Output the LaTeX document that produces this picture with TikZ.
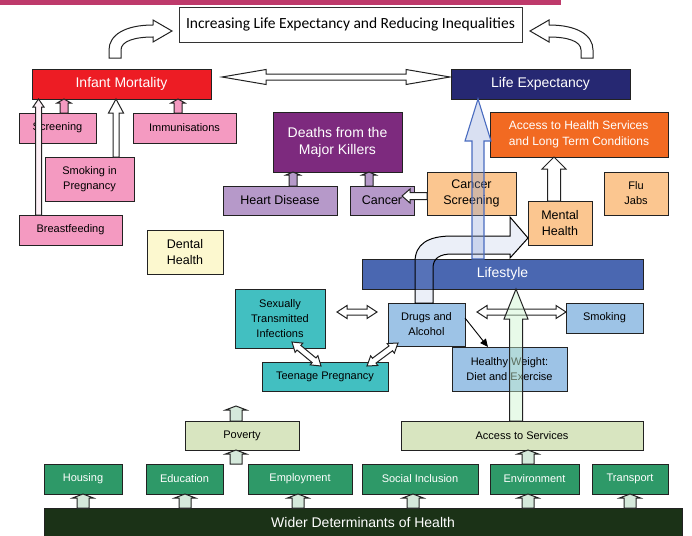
\documentclass[tikz,border=0pt]{standalone}
\usepackage{fontspec}
\setmainfont{Liberation Sans}
\newfontfamily\carl{Carlito}
\usetikzlibrary{calc,arrows.meta}
\definecolor{cBar}{HTML}{BE3A6B}
\definecolor{cRed}{HTML}{ED1C24}
\definecolor{cNavy}{HTML}{262872}
\definecolor{cPink}{HTML}{F49AC1}
\definecolor{cPurple}{HTML}{7D2A7E}
\definecolor{cLilac}{HTML}{B699C9}
\definecolor{cPeach}{HTML}{FBC690}
\definecolor{cOrange}{HTML}{F26A22}
\definecolor{cYellow}{HTML}{FCF8CF}
\definecolor{cLife}{HTML}{4A67B1}
\definecolor{cLBlue}{HTML}{9DC3E6}
\definecolor{cTeal}{HTML}{42BFC1}
\definecolor{cLGreen}{HTML}{D8E5C0}
\definecolor{cGreen}{HTML}{2E9968}
\definecolor{cDGreen}{HTML}{1B3217}
\definecolor{cMint}{HTML}{D5E9DB}
\definecolor{cEdge}{HTML}{222222}
\definecolor{cArrBlue}{HTML}{4A6CC0}
\newcommand\szbig{\fontsize{14}{17}\selectfont}
\newcommand\szmid{\fontsize{12.5}{15.5}\selectfont}
\newcommand\szsm{\fontsize{11}{15}\selectfont}
\newcommand\szacc{\fontsize{12}{16}\selectfont}
\tikzset{
  box/.style={draw=cEdge,line width=1pt,inner sep=0pt,outer sep=0pt,align=center,font=\szsm},
  whitebox/.style={box,text=white},
  harrow/.style={draw=cEdge,line width=1pt,fill=white,line join=miter},
  pinkarrow/.style={harrow,fill=cPink},
  lilacarrow/.style={harrow,fill=cLilac},
  mintarrow/.style={harrow,fill=cMint},
}
\newcommand\bx[7]{\node[#6,minimum width={(#4-#2)*1pt},minimum height={(#5-#3)*1pt}] (#1) at ({(#2+#4)/2},{(#3+#5)/2}) {#7};}
\newcommand\barrowcalc[3]{%
  \path let \p1=(#1), \p2=(#2) in \pgfextra{%
    \pgfmathsetmacro\baA{atan2(\y2-\y1,\x2-\x1)}\global\let\baAng\baA
    \pgfmathsetlengthmacro\baL{veclen(\x2-\x1,\y2-\y1)}\global\let\baLen\baL
    \pgfmathsetlengthmacro\baB{veclen(\x2-\x1,\y2-\y1)-#3pt}\global\let\baBk\baB
    \xdef\baX{\x1}\xdef\baY{\y1}};}
% single block arrow: [style]{from}{to}{half shaft}{half head}{head length}
\newcommand\barrow[6][]{%
  \barrowcalc{#2}{#3}{#6}%
  \begin{scope}[shift={(\baX,\baY)},rotate=\baAng]
    \draw[#1] (0pt,#4pt) -- (\baBk,#4pt) -- (\baBk,#5pt) -- (\baLen,0pt) -- (\baBk,-#5pt) -- (\baBk,-#4pt) -- (0pt,-#4pt) -- cycle;
  \end{scope}}
% double block arrow
\newcommand\dbarrow[6][]{%
  \barrowcalc{#2}{#3}{#6}%
  \begin{scope}[shift={(\baX,\baY)},rotate=\baAng]
    \draw[#1] (0pt,0pt) -- (#6pt,#5pt) -- (#6pt,#4pt) -- (\baBk,#4pt) -- (\baBk,#5pt) -- (\baLen,0pt) -- (\baBk,-#5pt) -- (\baBk,-#4pt) -- (#6pt,-#4pt) -- (#6pt,-#5pt) -- cycle;
  \end{scope}}
\begin{document}
\begin{tikzpicture}[x=1pt,y=-1pt]
\useasboundingbox (0,0) rectangle (692,535);
\fill[cBar] (0,0) rectangle (561,5);
% ---------- boxes
\bx{title}{179}{7}{522}{42}{box,line width=0.8pt,draw=black!80,fill=white,font={\carl\fontsize{15.5}{18}\selectfont}}{Increasing Life Expectancy and Reducing Inequalities}
\bx{im}{32}{69}{211}{99}{whitebox,fill=cRed,font=\szbig}{Infant Mortality}
\bx{le}{451}{69}{630}{99}{whitebox,fill=cNavy,font=\szbig}{Life Expectancy}
\bx{scr}{19}{113}{96}{143}{box,fill=cPink}{Screening}
\bx{imm}{133}{113}{236}{143}{box,fill=cPink}{Immunisations}
\bx{sip}{45}{157}{134}{201}{box,fill=cPink}{Smoking in\\Pregnancy}
\bx{bf}{19}{215}{122}{245}{box,fill=cPink}{Breastfeeding}
\bx{dent}{147}{230}{223}{274}{box,fill=cYellow,font=\szmid}{Dental\\Health}
\bx{dmk}{273}{112}{402}{172}{whitebox,fill=cPurple,font=\szbig}{Deaths from the\\Major Killers}
\bx{hd}{223}{186}{337}{215}{box,fill=cLilac,font=\szmid}{Heart Disease}
\bx{can}{350}{186}{414}{215}{box,fill=cLilac,font=\szmid}{Cancer}
\bx{cs}{427}{172}{516}{215}{box,fill=cPeach,font=\szmid}{Cancer\\Screening}
\bx{ahs}{490}{112}{668}{157}{whitebox,fill=cOrange,font=\szacc,align=left}{Access to Health Services\\and Long Term Conditions}
\bx{flu}{604}{172}{668}{215}{box,fill=cPeach}{Flu\\Jabs}
\bx{mh}{528}{201}{592}{245}{box,fill=cPeach,font=\szmid}{Mental\\Health}
\bx{ls}{362}{259}{643}{289}{whitebox,fill=cLife,font=\szbig}{Lifestyle}
\bx{sti}{235}{289}{325}{348}{box,fill=cTeal}{Sexually\\Transmitted\\Infections}
\bx{da}{388}{303}{465}{346}{box,fill=cLBlue}{Drugs and\\Alcohol}
\bx{smk}{566}{303}{643}{333}{box,fill=cLBlue}{Smoking}
\bx{tp}{262}{362}{388}{391}{box,fill=cTeal}{Teenage Pregnancy}
\bx{hw}{452}{347}{567}{391}{box,fill=cLBlue}{Healthy Weight:\\Diet and Exercise}
\bx{pov}{185}{421}{299}{450}{box,fill=cLGreen}{Poverty}
\bx{ats}{401}{421}{643}{450}{box,fill=cLGreen}{Access to Services}
\bx{hou}{44}{464}{122}{494}{whitebox,fill=cGreen}{Housing}
\bx{edu}{146}{464}{223}{494}{whitebox,fill=cGreen}{Education}
\bx{emp}{248}{464}{352}{494}{whitebox,fill=cGreen}{Employment}
\bx{soc}{362}{464}{478}{494}{whitebox,fill=cGreen}{Social Inclusion}
\bx{env}{490}{464}{579}{494}{whitebox,fill=cGreen}{Environment}
\bx{tra}{592}{464}{668}{494}{whitebox,fill=cGreen}{Transport}
\bx{wd}{44}{508}{682}{536}{whitebox,fill=cDGreen,font=\szbig}{Wider Determinants of Health}
% ---------- top curved arrows
\draw[harrow] (109,58) -- (109,50) .. controls (109,35) and (125,25) .. (153,25)
  -- (153,20) -- (172,31) -- (153,42) -- (153,37)
  .. controls (135,37) and (121,41) .. (121,50) -- (121,58) -- cycle;
\draw[harrow] (593,58) -- (593,50) .. controls (593,35) and (577,25) .. (549,25)
  -- (549,20) -- (530,31) -- (549,42) -- (549,37)
  .. controls (567,37) and (581,41) .. (581,50) -- (581,58) -- cycle;
% ---------- infant mortality arrows
\dbarrow[harrow]{$(im.east)+(11,-7)$}{$(le.west)+(-1,-7)$}{3}{7.5}{44}
\barrow[pinkarrow]{64,0 |- scr.north}{64,0 |- im.south}{4}{7}{4}
\barrow[pinkarrow]{178,0 |- imm.north}{178,0 |- im.south}{4}{7}{4}
\barrow[harrow]{116,0 |- sip.north}{116,0 |- im.south}{3}{7.5}{14}
\barrow[harrow,fill=cPink!15]{38.5,0 |- bf.north}{38.5,0 |- im.south}{3}{5.5}{8}
% ---------- deaths from major killers
\barrow[lilacarrow]{293,0 |- hd.north}{293,0 |- dmk.south}{4}{7}{3}
\barrow[lilacarrow]{369,0 |- can.north}{369,0 |- dmk.south}{4}{7}{3}
\barrow[harrow]{cs.west |- 0,196}{$(can.east |- 0,196)+(-12,0)$}{3.5}{7}{8}
\barrow[harrow]{554,0 |- mh.north}{554,0 |- ahs.south}{6.5}{12}{12}
% ---------- lifestyle cluster
\draw[draw=black,line width=1pt,fill=cArrBlue!60,fill opacity=0.18]
  (415,303) -- (415,262) .. controls (415,244) and (428,236) .. (452,236)
  -- (510,236) -- (510,217) -- (528,238) -- (510,258) -- (510,254) -- (452,254)
  .. controls (440,254) and (433,258) .. (433,268) -- (433,303) -- cycle;
\dbarrow[harrow]{$(sti.east |- 0,312)+(12,0)$}{$(da.west |- 0,312)+(-11,0)$}{3}{6.5}{10}
\dbarrow[harrow]{$(da.east |- 0,312)+(12,0)$}{smk.west |- 0,312}{3}{6.5}{10}
\dbarrow[harrow]{$(sti.south)+(12,-6)$}{$(tp.north)+(-4,4)$}{3}{6}{9}
\dbarrow[harrow]{$(da.south west)+(10,-3)$}{$(tp.north east)+(-21,4)$}{3}{6}{9}
\draw[line width=0.9pt,-{Triangle[length=8pt,width=7pt]}] ($(da.north east)+(0,15)$) -- ($(hw.north west)+(36,0)$);
\barrow[draw=cEdge,line width=1pt,fill=cMint!80!green!60,fill opacity=0.45]{516,0 |- ats.north}{516,0 |- ls.south}{6.5}{12}{30}
\barrow[draw=cArrBlue,line width=1.1pt,fill=cArrBlue!70,fill opacity=0.3]{478,0 |- ls.north}{478,0 |- le.south}{6}{13}{42}
% ---------- wider determinants arrows
\barrow[mintarrow]{236,0 |- pov.north}{$(236,0 |- pov.north)+(0,-15)$}{6}{10.5}{4}
\barrow[mintarrow]{236,0 |- emp.north}{236,0 |- pov.south}{6}{10.5}{4}
\barrow[mintarrow]{528,0 |- env.north}{528,0 |- ats.south}{6}{10.5}{4}
\barrow[mintarrow]{83,0 |- wd.north}{83,0 |- hou.south}{6}{10.5}{4}
\barrow[mintarrow]{185,0 |- wd.north}{185,0 |- edu.south}{6}{10.5}{4}
\barrow[mintarrow]{298,0 |- wd.north}{298,0 |- emp.south}{6}{10.5}{4}
\barrow[mintarrow]{413,0 |- wd.north}{413,0 |- soc.south}{6}{10.5}{4}
\barrow[mintarrow]{528,0 |- wd.north}{528,0 |- env.south}{6}{10.5}{4}
\barrow[mintarrow]{630,0 |- wd.north}{630,0 |- tra.south}{6}{10.5}{4}
\end{tikzpicture}
\end{document}
